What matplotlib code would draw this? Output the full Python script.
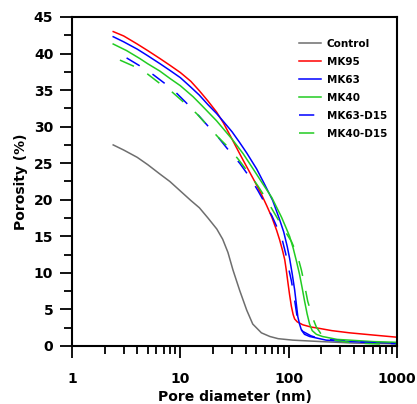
import matplotlib
matplotlib.use("Agg")
from matplotlib import pyplot as plt
from matplotlib.ticker import MultipleLocator, LogLocator, NullFormatter

# pore diameter (nm) / cumulative porosity (%)
control_d = [2.4, 3.0, 4.0, 5.0, 6.5, 8.0, 10, 12.5, 15, 18, 21.7, 24.6, 27.5, 30.6, 35.3, 41, 46.6, 56, 67, 80, 109, 200, 400, 1000]
control_p = [27.5, 26.8, 25.8, 24.8, 23.5, 22.5, 21.2, 19.9, 18.9, 17.5, 16.0, 14.6, 12.8, 10.4, 7.6, 4.9, 3.0, 1.8, 1.3, 1.0, 0.8, 0.6, 0.4, 0.3]

mk95_d = [2.4, 3.0, 4.0, 5.0, 6.5, 8.0, 10, 12.5, 15, 18, 21.6, 25, 30, 35, 40, 46.6, 55, 62.7, 70, 77.5, 82.6, 88, 92, 95, 98.6, 102, 106, 110, 113.5, 120, 135, 160, 193, 250, 365, 600, 1000]
mk95_p = [43.0, 42.4, 41.3, 40.4, 39.3, 38.4, 37.4, 36.2, 34.9, 33.5, 32.0, 30.5, 28.3, 26.4, 24.8, 23.0, 21.0, 19.2, 17.6, 15.8, 14.5, 13.0, 11.8, 10.4, 8.6, 7.0, 5.4, 4.3, 3.7, 3.3, 2.9, 2.6, 2.4, 2.1, 1.8, 1.5, 1.2]

mk63_d = [2.4, 3.0, 4.0, 5.0, 6.5, 8.0, 10, 12.5, 15, 18, 21.6, 25, 30, 35, 41, 50.7, 60, 71.2, 82, 90, 97, 102, 108, 113.5, 118, 121.5, 126, 131, 140, 156, 222, 365, 1000]
mk63_p = [42.3, 41.6, 40.6, 39.7, 38.6, 37.7, 36.7, 35.4, 34.3, 33.0, 31.8, 30.7, 29.3, 27.9, 26.4, 24.2, 22.1, 19.9, 17.4, 15.6, 13.6, 12.0, 9.8, 7.7, 5.6, 4.0, 3.0, 2.2, 1.6, 1.3, 0.8, 0.6, 0.4]

mk40_d = [2.4, 3.19, 4.24, 5.0, 6.47, 8.0, 10, 13.1, 16, 21.6, 30, 38, 46.6, 57, 69.9, 86, 95, 102, 110, 118, 126, 133, 140, 148, 156, 165, 180, 205, 280, 365, 600, 1000]
mk40_p = [41.3, 40.4, 39.3, 38.6, 37.6, 36.6, 35.6, 34.1, 32.8, 30.8, 28.3, 26.3, 24.3, 22.3, 20.3, 17.6, 16.1, 15.0, 13.4, 11.6, 9.8, 8.0, 6.2, 4.4, 3.0, 2.1, 1.6, 1.3, 0.9, 0.8, 0.6, 0.5]

mk63d15_d = [3.19, 4.24, 5.63, 7.2, 9.2, 11.8, 14.6, 18.7, 22.2, 28.5, 35.3, 43.6, 51.8, 60, 70, 80, 88, 94, 100, 106, 113.5, 118, 121.5, 126, 135, 160, 193, 365, 1000]
mk63d15_p = [39.4, 38.3, 37.1, 35.9, 34.6, 33.0, 31.6, 29.8, 28.6, 26.6, 25.0, 23.1, 21.3, 19.6, 17.8, 15.9, 14.3, 12.6, 10.6, 8.9, 6.3, 4.6, 3.4, 2.6, 2.0, 1.4, 1.0, 0.6, 0.3]

mk40d15_d = [2.77, 3.8, 4.88, 6.47, 8.3, 11.4, 14.1, 18.7, 22.2, 28.5, 35.3, 43.6, 52, 62, 75, 90, 106, 113.5, 121, 131, 140, 150, 158, 166, 180, 200, 238, 400, 1000]
mk40d15_p = [39.1, 38.2, 37.3, 35.9, 34.8, 33.0, 31.8, 29.8, 28.6, 27.0, 25.3, 23.5, 21.9, 20.1, 18.0, 16.0, 14.3, 13.3, 12.3, 10.4, 8.4, 6.1, 5.0, 3.9, 2.6, 1.6, 0.9, 0.4, 0.2]

fig = plt.figure(figsize=(4.17, 4.04), dpi=100)
ax = fig.add_axes([0.1727, 0.1436, 0.7793, 0.8144])

ax.plot(control_d, control_p, color="#6e6e6e", lw=1.1, label="Control")
ax.plot(mk95_d, mk95_p, color="#ff0000", lw=1.1, label="MK95")
ax.plot(mk63_d, mk63_p, color="#0000ff", lw=1.1, label="MK63")
ax.plot(mk40_d, mk40_p, color="#22cc22", lw=1.1, label="MK40")
ax.plot(mk63d15_d, mk63d15_p, color="#0000ff", lw=1.1, ls=(0, (10, 10)), label="MK63-D15")
ax.plot(mk40d15_d, mk40d15_p, color="#22cc22", lw=1.1, ls=(0, (10, 10)), label="MK40-D15")

ax.set_xscale("log")
ax.set_xlim(1, 1000)
ax.set_ylim(0, 45)
ax.yaxis.set_major_locator(MultipleLocator(5))
ax.yaxis.set_minor_locator(MultipleLocator(2.5))
ax.xaxis.set_minor_locator(LogLocator(base=10, subs=range(2, 10)))
ax.xaxis.set_minor_formatter(NullFormatter())
ax.set_xticks([1, 10, 100, 1000])
ax.set_xticklabels(["1", "10", "100", "1000"])

for s in ax.spines.values():
    s.set_linewidth(1.5)
ax.tick_params(which="major", direction="out", length=8.5, width=1.3, labelsize=10)
ax.tick_params(which="minor", direction="out", length=6, width=1.3)
ax.tick_params(axis="x", which="major", pad=10)
ax.tick_params(axis="y", which="major", pad=5)
for lab in ax.get_xticklabels() + ax.get_yticklabels():
    lab.set_fontweight("bold")

ax.set_xlabel("Pore diameter (nm)", fontsize=10, fontweight="bold", labelpad=3)
ax.set_ylabel("Porosity (%)", fontsize=10, fontweight="bold", labelpad=4)

ax.legend(loc="upper left", bbox_to_anchor=(0.669, 0.963), frameon=False,
          prop={"size": 7.5, "weight": "bold"}, handlelength=2.1,
          handletextpad=0.6, labelspacing=0.78)

fig.savefig("out.png", dpi=100)
